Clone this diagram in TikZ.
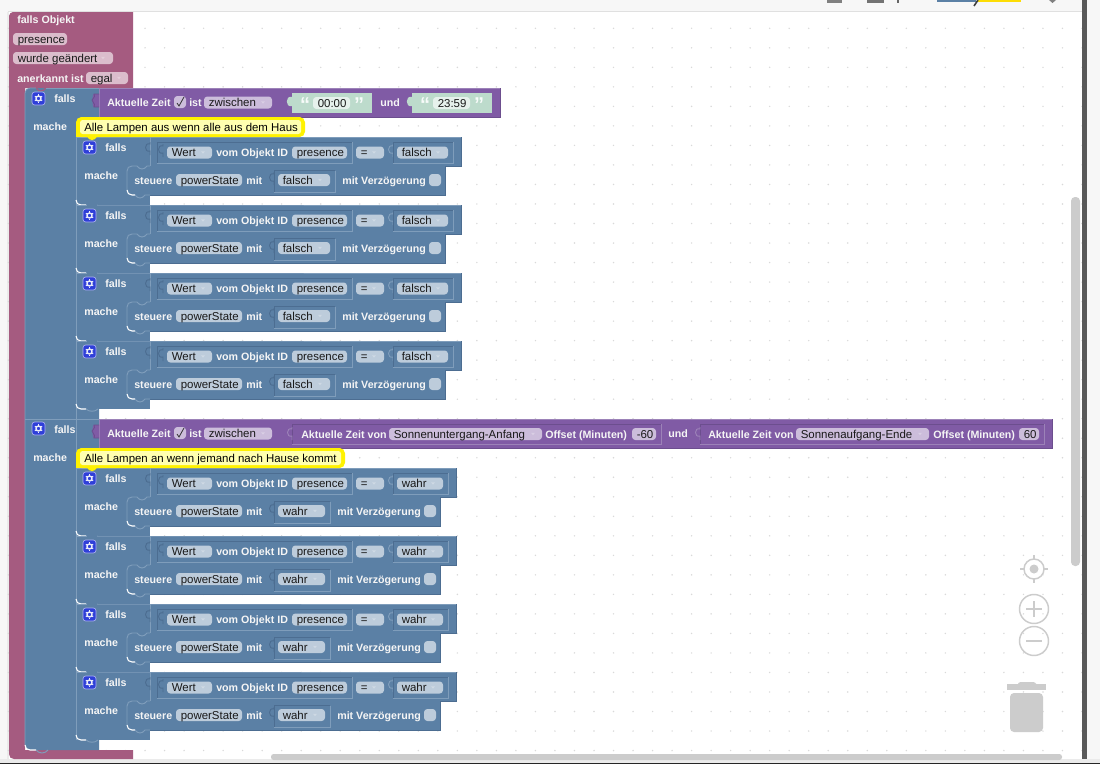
\documentclass[tikz,border=0pt]{standalone}
\usepackage{fontspec}
\usetikzlibrary{calc}
\setmainfont{Liberation Sans}
\definecolor{bblue}{HTML}{5B80A5}
\definecolor{blight}{HTML}{7F9DBB}
\definecolor{bdark}{HTML}{4C6D91}
\definecolor{pblue}{HTML}{BDCCDB}
\definecolor{bmar}{HTML}{A55B80}
\definecolor{pmar}{HTML}{DBBDCC}
\definecolor{bpur}{HTML}{805BA5}
\definecolor{ppur}{HTML}{CCBDDB}
\definecolor{dpur}{HTML}{6C4E8E}
\definecolor{lpur}{HTML}{9C82B8}
\definecolor{bgreen}{HTML}{BDDBCC}
\definecolor{pgreen}{HTML}{E6F1EC}
\definecolor{iconb}{HTML}{2F3FD8}
\definecolor{pale}{HTML}{FFFFB0}
\definecolor{grayui}{HTML}{CCCCCC}
\newcounter{nd}
\tikzset{
  lbl/.style={anchor=base west,inner sep=0pt,text=white!96!black,font=\fontsize{8}{10}\selectfont\bfseries},
  fld/.style={anchor=base west,inner sep=0pt,text=black!90,font=\fontsize{8.6}{10}\selectfont},
  cmt/.style={anchor=base west,inner sep=0pt,text=black,font=\fontsize{8.58}{10}\selectfont},
  quo/.style={anchor=center,inner sep=0pt,text=white!90!bgreen,font=\fontsize{15}{15}\selectfont\bfseries},
  uiline/.style={draw=grayui,line width=1.1pt}
}
\newcommand\lab[3]{\stepcounter{nd}\node[lbl] (n\arabic{nd}) at (#1,#2+4) {#3};}
\newcommand\pill[5]{\fill[#4,rounded corners=2.5pt] (#1,#3-6) rectangle (#2,#3+6);
  \stepcounter{nd}\node[fld] (n\arabic{nd}) at (#1+4.5,#3+4) {#5};}
\newcommand\arw[3]{\fill[#3] (#1-2,#2-1.2) -- (#1+2,#2-1.2) -- (#1,#2+1.2) -- cycle;}
\newcommand\inb[6]{\draw[#5,line width=.6pt] (#1,#4) -- (#1,#2) -- (#3,#2);
  \draw[#6,line width=.6pt] (#3,#2) -- (#3,#4) -- (#1,#4);}
\newcommand\tab[3]{\draw[#3,line width=.7pt] (#1,#2) -- (#1,#2+2) .. controls (#1-6,#2) and (#1-6,#2+11) .. (#1,#2+9) -- (#1,#2+13);}
\newcommand\chk[3]{\fill[#3,rounded corners=2.5pt] (#1,#2) rectangle +(12,12);}
\newcommand\gear[2]{\fill[iconb,rounded corners=2pt] (#1,#2) rectangle +(13,13);
  \draw[white!60!iconb,line width=.5pt,rounded corners=2pt] (#1,#2) rectangle +(13,13);
  \draw[white!90!iconb,line width=1pt] (#1+6.5,#2+6.5) circle (2.5);
  \foreach \a in {30,90,...,330}{\draw[white!90!iconb,line width=.9pt] ($(#1+6.5,#2+6.5)+(\a:3)$) -- ($(#1+6.5,#2+6.5)+(\a:4.2)$);}}
\newcommand\inner[4]{%
\begin{scope}[shift={(0,#1)}]
  \fill[bblue] (76,0) rectangle (150,68);
  \fill[bblue] (150,0) rectangle (#4+16,29);
  \fill[bblue] (150,29) rectangle (#4,58);
  \draw[blight,line width=.6pt] (76,68) -- (76,0) -- (87,0) (97,0) -- (150,0) -- (#4+16,0);
  \draw[bdark,line width=.6pt] (#4+16,0) -- (#4+16,29) -- (#4,29) -- (#4,58) -- (150,58);
  \draw[blight,line width=.6pt] (150,29) -- (150,0);
  \draw[blight,line width=.7pt] (150,29) -- (147,29) .. controls (144,33) and (140,33) .. (137,29) -- (132,29) .. controls (129,29) and (127,31) .. (127,34) -- (127,53);
  \draw[white,line width=.8pt] (127,53) .. controls (127,56) and (129,58) .. (132,58) -- (135,58);
  \draw[blight,line width=.7pt] (135,58) .. controls (138,62) and (142,62) .. (145,58) -- (150,58);
  \draw[white,line width=.8pt] (76,63) .. controls (76,66) and (78,68) .. (81,68) -- (86,68);
  \draw[blight,line width=.7pt] (86,68) .. controls (89,71) and (95,71) .. (98,68);
  \gear{83}{4}
  \lab{105}{10}{falls}
  \lab{84}{38}{mache}
  \tab{150}{5}{bdark}
  \inb{157}{5}{352}{26}{bdark}{blight}
  \tab{163}{7}{bdark}
  \pill{167}{212}{15.5}{pblue}{Wert}
  \arw{203}{15.5}{white!70!bblue}
  \lab{216}{15.5}{vom Objekt ID}
  \pill{292}{347}{15.5}{pblue}{presence}
  \pill{356}{384}{15.5}{pblue}{=}
  \arw{374}{15.5}{white!70!bblue}
  \tab{393}{7}{blight}
  \inb{393}{5}{#4+8}{26}{bdark}{blight}
  \pill{397}{#4+3}{15.5}{pblue}{#2}
  \arw{#4-7}{15.5}{white!70!bblue}
  \lab{134}{43}{steuere}
  \pill{176}{242}{43}{pblue}{powerState}
  \lab{246}{43}{mit}
  \tab{274}{35}{bdark}
  \inb{274}{33.5}{#3+5}{55}{bdark}{blight}
  \pill{278}{#3}{43}{pblue}{#2}
  \arw{#3-10}{43}{white!70!bblue}
  \lab{#3+12}{43}{mit Verzögerung}
  \chk{#3+99}{37}{pblue}
\end{scope}}
\begin{document}
\begin{tikzpicture}[x=.75pt,y=-.75pt]
\useasboundingbox (0,0) rectangle (1100,764);
\fill[black!3] (0,0) rectangle (1100,764);
\fill[white] (8,11) rectangle (1082,759);
\draw[black!12,line width=.8pt] (8,11.5) -- (1082,11.5) ;
\draw[black!8,line width=.8pt] (8,11.5) -- (8,759);
\foreach \i in {0,...,55}{\foreach \j in {0,...,37}{
  \fill[black!15] ({8.4+19.52*\i},{28.3+19.52*\j}) circle (.8);}}
\fill[black!50] (827,0) rectangle (842,2.5);
\fill[black!55] (867,0) rectangle (884,3);
\fill[black!60] (897,0) rectangle (899,3);
\fill[bblue] (937,0) rectangle (976,2);
\fill[yellow!80!orange] (978,0) rectangle (1021,2);
\draw[black!75,line width=1.2pt] (978,0) -- (974,6);
\fill[black!50] (1049,0) -- (1056,0) -- (1052.5,3) -- cycle;
\fill[black!65] (1082,0) rectangle (1087,759);
\fill[black!8] (0,759) rectangle (1100,763);
\fill[black!85] (0,763) rectangle (1100,764);
\fill[grayui,rounded corners=2pt] (271,754) rectangle (1062,760);
\fill[grayui,rounded corners=3pt] (1071,197) rectangle (1080,566);
\draw[uiline] (1034,569) circle (10);
\fill[grayui] (1034,569) circle (4.5);
\draw[uiline] (1034,555) -- (1034,559) (1034,579) -- (1034,583) (1020,569) -- (1024,569) (1044,569) -- (1048,569);
\draw[uiline] (1034,609) circle (14.5);
\draw[uiline] (1026,609) -- (1042,609) (1034,601) -- (1034,617);
\draw[uiline] (1034,641) circle (14.5);
\draw[uiline] (1026,641) -- (1042,641);
\fill[grayui] (1007,684) rectangle (1046,690);
\fill[grayui,rounded corners=2pt] (1018,682) rectangle (1036,686);
\fill[grayui,rounded corners=3pt] (1010,693) rectangle (1043,732);
% outer maroon block
\fill[bmar] (13,12) -- (133,12) -- (133,88) -- (25,88) -- (25,750) -- (133,750) -- (133,759) -- (14,759) .. controls (11,759) and (9,757) .. (9,754) -- (9,16) .. controls (9,14) and (11,12) .. (13,12) -- cycle;
\lab{17}{19}{falls Objekt}
\pill{13}{67}{39}{pmar}{presence}
\pill{13}{113}{58}{pmar}{wurde geändert}
\arw{103}{58}{white!70!bmar}
\lab{17}{78}{anerkannt ist}
\pill{86}{128}{78}{pmar}{egal}
\arw{119}{78}{white!70!bmar}
% falls blocks
\fill[bblue] (30,88) -- (99,88) -- (99,750) -- (30,750) .. controls (27,750) and (25,748) .. (25,745) -- (25,93) .. controls (25,90) and (27,88) .. (30,88) -- cycle;
\draw[blight,line width=.6pt] (25,745) -- (25,93) .. controls (25,90) and (27,88) .. (30,88) -- (36,88);
\draw[bmar,line width=.8pt] (36,88) .. controls (39,92) and (43,92) .. (46,88);
\draw[blight,line width=.6pt] (46,88) -- (99,88);
\draw[blight,line width=.6pt] (25,419) -- (99,419);
\draw[white,line width=.8pt] (25,745) .. controls (25,748) and (27,750) .. (30,750) -- (36,750);
\draw[blight,line width=.7pt] (36,750) .. controls (39,754) and (45,754) .. (48,750);
\draw[blight,line width=.6pt] (76,132) -- (76,740);
\gear{32}{92}
\lab{54}{98}{falls}
\lab{33}{126}{mache}
\gear{32}{422}
\lab{54}{429}{falls}
\lab{33}{457}{mache}
% purple 1
\fill[bpur] (99,88) rectangle (500,117);
\draw[lpur,line width=.6pt] (99,117) -- (99,88) -- (500,88);
\draw[dpur,line width=.6pt] (500,88) -- (500,117) -- (99,117);
\fill[bpur] (94,94) .. controls (92,94) and (92,107) .. (94,107) -- (99,107) -- (99,94) -- cycle;
\draw[dpur,line width=.6pt] (99,94) -- (94,94) .. controls (96,98) and (92,98) .. (92,100) .. controls (92,103) and (96,103) .. (94,107) -- (99,107);
\lab{107}{102}{Aktuelle Zeit}
\chk{174}{96}{ppur}
\draw[black!80,line width=.6pt] (177,103) -- (179,106) -- (184,97);
\lab{189}{102}{ist}
\pill{204}{272}{102.5}{ppur}{zwischen}
\arw{263}{102.5}{white!70!bpur}
\fill[bgreen] (292,93) rectangle (372,113);
\fill[bgreen] (292,97) .. controls (285,95) and (285,108) .. (292,106) -- cycle;
\stepcounter{nd}\node[quo] (n\arabic{nd}) at (305,105) {“};
\pill{313}{350}{103}{pgreen}{00:00}
\stepcounter{nd}\node[quo] (n\arabic{nd}) at (359,105) {”};
\lab{380}{102}{und}
\fill[bgreen] (412,93) rectangle (492,113);
\fill[bgreen] (412,97) .. controls (405,95) and (405,108) .. (412,106) -- cycle;
\stepcounter{nd}\node[quo] (n\arabic{nd}) at (425,105) {“};
\pill{433}{470}{103}{pgreen}{23:59}
\stepcounter{nd}\node[quo] (n\arabic{nd}) at (479,105) {”};
% purple 2
\fill[bpur] (99,419) rectangle (1052,448);
\draw[lpur,line width=.6pt] (99,448) -- (99,419) -- (1052,419);
\draw[dpur,line width=.6pt] (1052,419) -- (1052,448) -- (99,448);
\fill[bpur] (94,425) .. controls (92,425) and (92,438) .. (94,438) -- (99,438) -- (99,425) -- cycle;
\draw[dpur,line width=.6pt] (99,425) -- (94,425) .. controls (96,429) and (92,429) .. (92,431) .. controls (92,434) and (96,434) .. (94,438) -- (99,438);
\lab{107}{433}{Aktuelle Zeit}
\chk{174}{427}{ppur}
\draw[black!80,line width=.6pt] (177,434) -- (179,437) -- (184,428);
\lab{189}{433}{ist}
\pill{204}{272}{433.5}{ppur}{zwischen}
\arw{263}{433.5}{white!70!bpur}
\inb{292}{424}{661}{444}{dpur}{lpur}
\tab{292}{427}{lpur}
\lab{301}{434}{Aktuelle Zeit von}
\pill{389}{542}{434}{ppur}{Sonnenuntergang-Anfang}
\arw{533}{434}{white!70!bpur}
\lab{545}{434}{Offset (Minuten)}
\pill{632}{656}{434}{ppur}{-60}
\lab{668}{433}{und}
\inb{700}{424}{1044}{444}{dpur}{lpur}
\tab{700}{427}{lpur}
\lab{708}{434}{Aktuelle Zeit von}
\pill{796}{929}{434}{ppur}{Sonnenaufgang-Ende}
\arw{920}{434}{white!70!bpur}
\lab{933}{434}{Offset (Minuten)}
\pill{1019}{1039}{434}{ppur}{60}
% inner blocks
\foreach \t in {137,205,273,341}{\inner{\t}{falsch}{330}{445}}
\foreach \t in {468,536,604,672}{\inner{\t}{wahr}{325}{440}}
% comments
\fill[yellow,rounded corners=4pt] (76,117) rectangle (305,137);
\fill[yellow] (76,130) rectangle (90,137);
\fill[yellow] (87,137) .. controls (90,141) and (94,141) .. (97,137) -- cycle;
\fill[pale,rounded corners=2pt] (80,120) rectangle (301,134);
\stepcounter{nd}\node[cmt] (n\arabic{nd}) at (84,131) {Alle Lampen aus wenn alle aus dem Haus};
\fill[yellow,rounded corners=4pt] (76,448) rectangle (345,468);
\fill[yellow] (76,461) rectangle (90,468);
\fill[yellow] (87,468) .. controls (90,472) and (94,472) .. (97,468) -- cycle;
\fill[pale,rounded corners=2pt] (80,451) rectangle (341,465);
\stepcounter{nd}\node[cmt] (n\arabic{nd}) at (84,462) {Alle Lampen an wenn jemand nach Hause kommt};
\end{tikzpicture}
\end{document}
